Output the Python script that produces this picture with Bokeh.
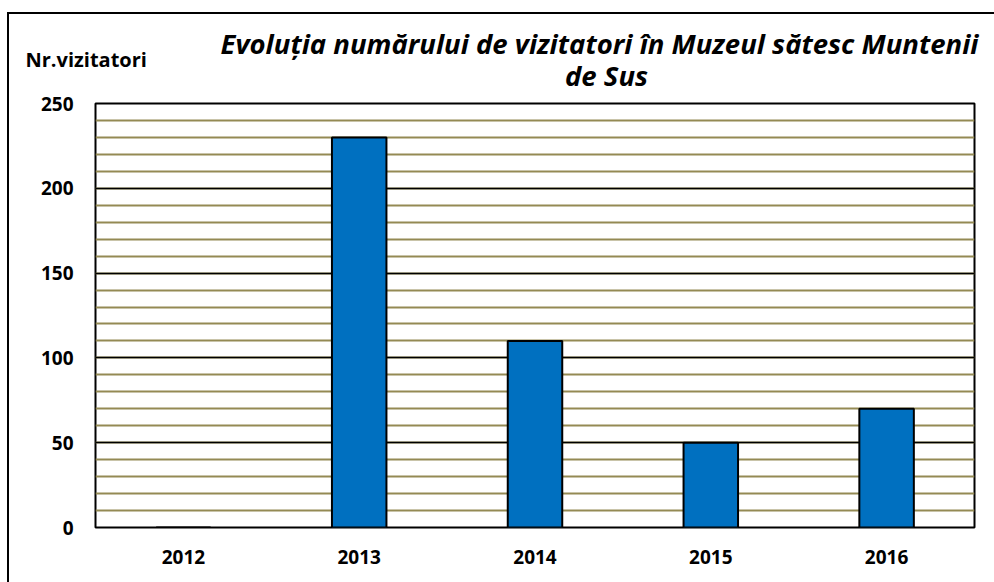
from bokeh.plotting import figure
from bokeh.models import SingleIntervalTicker, Label, ColumnDataSource
from bokeh.embed import file_html
from bokeh.resources import INLINE

# Data
years = ["2012", "2013", "2014", "2015", "2016"]
visitors = [0, 230, 110, 50, 70]

title_line1 = "Evoluția numărului de vizitatori în Muzeul sătesc Muntenii"
title_line2 = "de Sus"
y_title = "Nr.vizitatori"

FONT = "Open Sans"

src = ColumnDataSource(dict(year=years, visitors=visitors))

p = figure(
    x_range=years, y_range=(0, 250),
    width=994, height=582,
    output_backend="svg", toolbar_location=None,
    min_border_left=95, min_border_right=20,
    min_border_top=103, min_border_bottom=55,
)
# outer chart-area border (top and left edges) drawn as the element background
p.styles = {"background": "linear-gradient(#000,#000) 7px 12px / 987px 2px no-repeat, "
                          "linear-gradient(#000,#000) 7px 12px / 2px 570px no-repeat, #fff"}
p.background_fill_color = "white"
p.border_fill_color = None
p.outline_line_color = "black"
p.outline_line_width = 2

p.vbar(x="year", top="visitors", width=0.31, source=src,
       fill_color="#0070C0", line_color="black", line_width=2)

# grids
p.xgrid.grid_line_color = None
p.yaxis.ticker = SingleIntervalTicker(interval=50, num_minor_ticks=5)
p.ygrid.ticker = p.yaxis.ticker
p.ygrid.grid_line_color = "black"
p.ygrid.grid_line_width = 1.5
p.ygrid.minor_grid_line_color = "#948A54"
p.ygrid.minor_grid_line_width = 2
p.ygrid.level = "underlay"

for ax in (p.xaxis, p.yaxis):
    ax.axis_line_color = None
    ax.major_tick_line_color = None
    ax.minor_tick_line_color = None
    ax.major_tick_out = 0
    ax.minor_tick_out = 0
    ax.major_label_text_font = FONT
    ax.major_label_text_font_style = "bold"
    ax.major_label_text_font_size = "19px"
    ax.major_label_text_color = "black"

p.yaxis.major_label_standoff = 22
p.xaxis.major_label_standoff = 22

# texts above the plot area; each label gets its own stacked panel above the frame
# (screen units: x from frame left, y up from that panel's bottom)
TITLE_SIZE = 27.5
NR_SIZE = 20
K = 1.33  # panel height per px of font size
H_NR = K * NR_SIZE
H_TITLE = K * TITLE_SIZE

def above_label(text, x, y, align, style, size):
    p.add_layout(Label(x=x, y=y, x_units="screen", y_units="screen",
                       text=text, text_align=align, text_baseline="middle",
                       text_font=FONT, text_font_style=style,
                       text_font_size=f"{size}px", text_color="black"), "above")

bottom1 = 103
bottom2 = bottom1 - H_NR
bottom3 = bottom2 - H_TITLE
above_label(y_title, 25 - 95, bottom1 - 59, "left", "bold", NR_SIZE)
above_label(title_line1, 599 - 95, bottom2 - 43, "center", "bold italic", TITLE_SIZE)
above_label(title_line2, 606 - 95, bottom3 - 76, "center", "bold italic", TITLE_SIZE)

open("out.html", "w").write(file_html(p, INLINE))
